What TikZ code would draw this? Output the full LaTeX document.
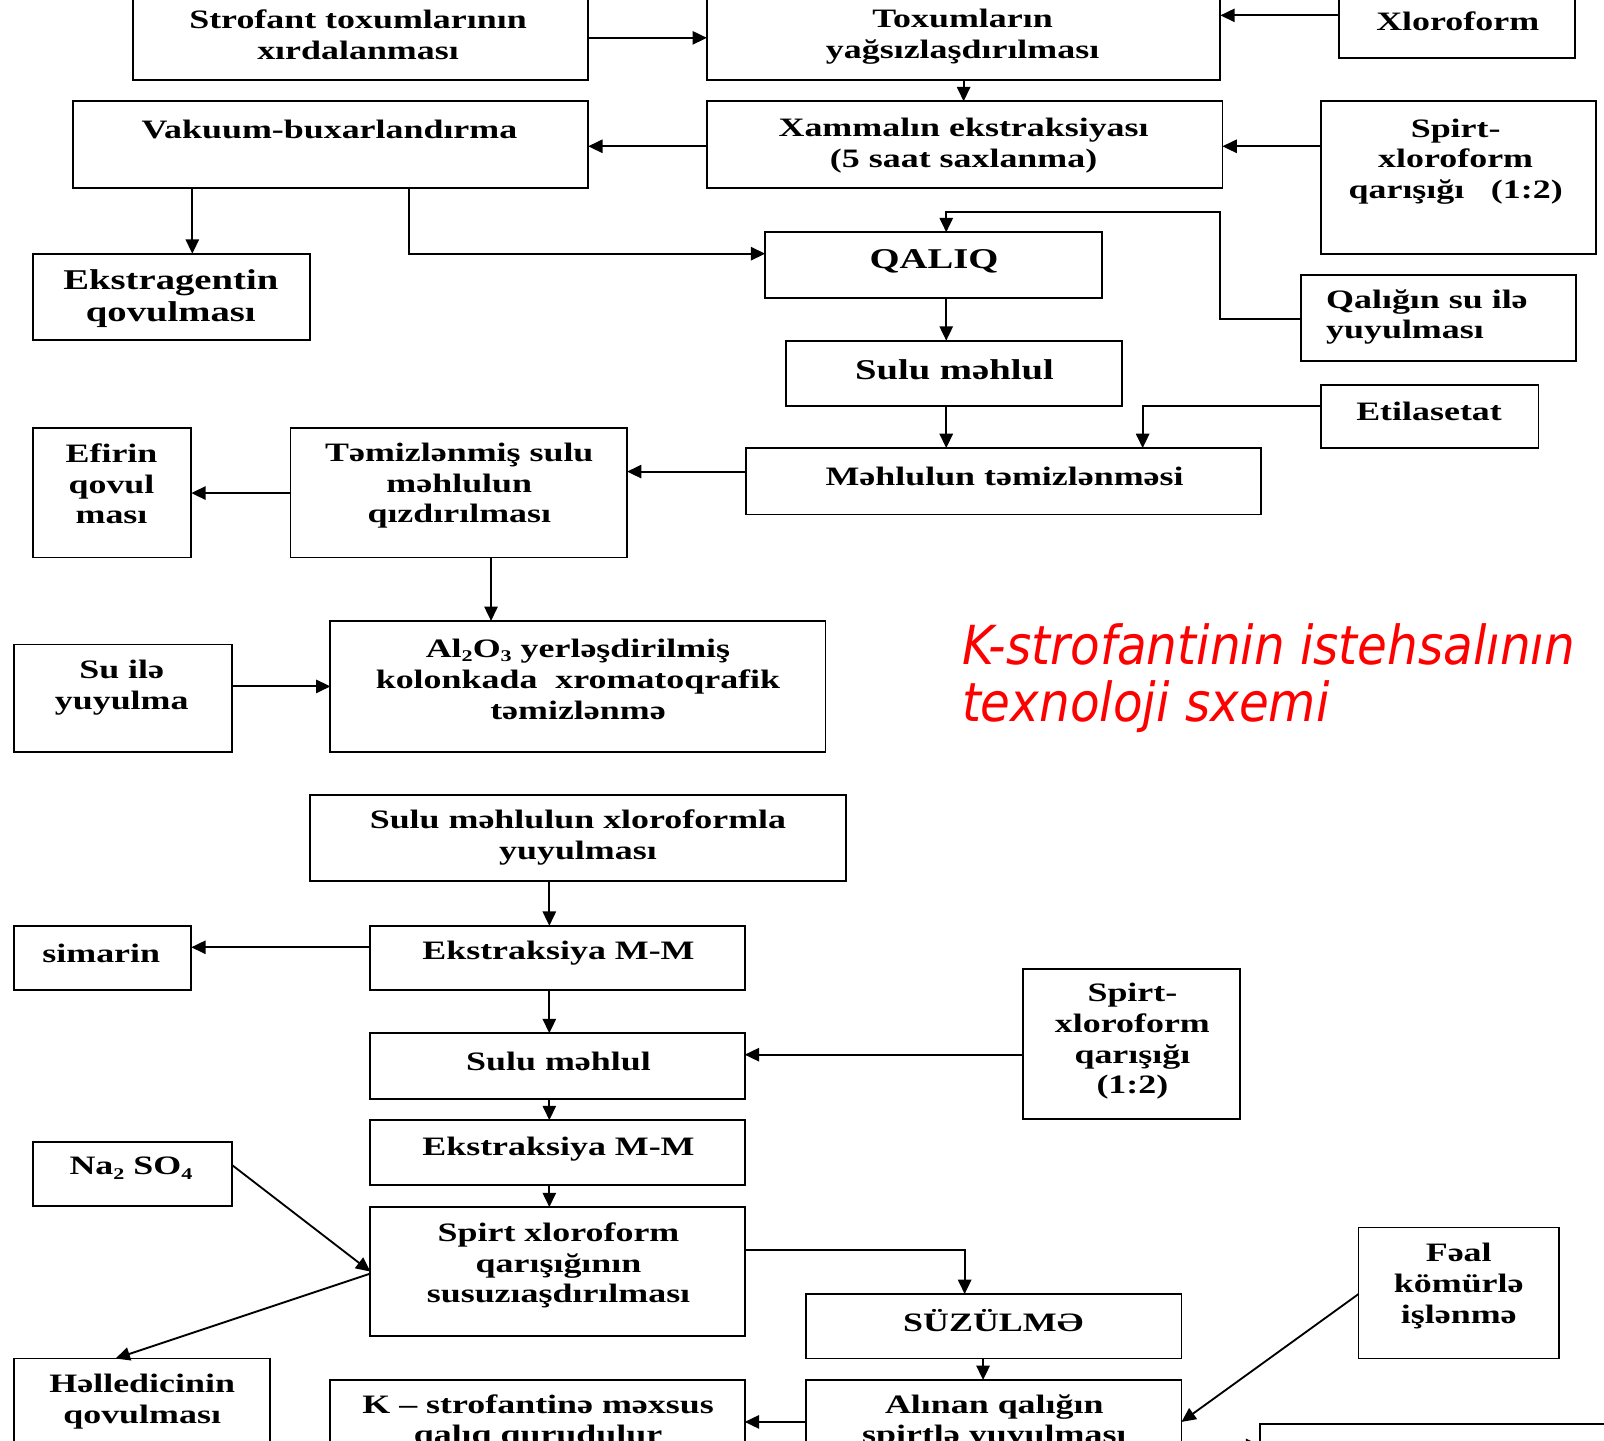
\documentclass[tikz,border=0pt]{standalone}
\usepackage{fontspec}
\usetikzlibrary{arrows.meta}
\newfontfamily\bxfont{Liberation Serif}[FakeStretch=1.35]
\newfontfamily\ttlfont{DejaVu Sans}[FakeStretch=0.9]
\newcommand\sbs[1]{\raisebox{-0.35ex}{\fontsize{8}{8}\selectfont #1}}
\newcommand\bx[5]{\node[bxs, minimum width={(#4-#2)*0.5pt}, minimum height={(#5-#3)*0.5pt}] (#1) at ({(#2+#4)/2},{(#3+#5)/2}) {};}
\tikzset{
  bxs/.style={draw, line width=0.9pt, rectangle, inner sep=0pt, outer sep=0pt},
  tx/.style={font=\bxfont\bfseries\fontsize{13}{15}\selectfont, align=center, inner sep=0pt},
  txb/.style={font=\bxfont\bfseries\fontsize{14}{16}\selectfont, align=center, inner sep=0pt},
  arr/.style={draw, line width=0.9pt, -{Triangle[length=7pt,width=6.5pt]}},
  ttl/.style={text=red, font=\ttlfont\itshape\fontsize{26.3}{27.5}\selectfont, anchor=base west, inner sep=0pt}
}
\begin{document}
\begin{tikzpicture}[x=0.5pt,y=-0.5pt]
\clip (0,0) rectangle (1568,1408);
\fill[white] (0,0) rectangle (1568,1408);
% boxes
\bx{strof}{130}{-10}{575}{78}
\bx{tox}{691}{-10}{1193}{78}
\bx{xlo}{1309}{-10}{1540}{57}
\bx{vak}{71}{99}{575}{184}
\bx{xam}{691}{99}{1195}{184}
\bx{spirt1}{1291}{99}{1560}{248}
\bx{ekstrag}{32}{248}{303}{332}
\bx{qaliq}{748}{227}{1077}{291}
\bx{qsu}{1272}{269}{1541}{353}
\bx{sulu1}{768}{333}{1097}{397}
\bx{etil}{1291}{376}{1504}{438}
\bx{mehtem}{729}{438}{1233}{503}
\bx{temiz}{284}{418}{613}{545}
\bx{efir}{32}{418}{187}{545}
\bx{al}{323}{607}{807}{735}
\bx{suile}{14}{630}{227}{735}
\bx{sxy}{303}{777}{827}{861}
\bx{ek1}{362}{905}{728}{968}
\bx{sim}{14}{905}{187}{968}
\bx{sulu2}{362}{1010}{728}{1074}
\bx{spirt2}{1000}{947}{1212}{1094}
\bx{ek2}{362}{1095}{728}{1158}
\bx{na}{32}{1116}{227}{1179}
\bx{sus}{362}{1180}{728}{1306}
\bx{hell}{14}{1328}{264}{1440}
\bx{suz}{788}{1265}{1155}{1328}
\bx{alin}{788}{1349}{1155}{1440}
\bx{feal}{1328}{1200}{1524}{1328}
\bx{kstr}{323}{1349}{728}{1440}
\bx{br}{1232}{1392}{1600}{1440}
% texts
\node[tx] (t1) at (350,34) {Strofant toxumlarının\\xırdalanması};
\node[tx] (t2) at (941,36) {Toxumların\\yağsızlaşdırılması};
\node[tx] (t3) at (1425,21) {Xloroform};
\node[tx] (t4) at (322,127) {Vakuum-buxarlandırma};
\node[tx] (t5) at (942,142) {Xammalın ekstraksiyası\\(5 saat saxlanma)};
\node[tx] (t6) at (1423,158) {Spirt-\\xloroform\\qarışığı\quad(1:2)};
\node[txb] (t7) at (167,292) {Ekstragentin\\qovulması};
\node[txb] (t8) at (913,255) {QALIQ};
\node[tx, anchor=west, align=left] (t9) at (1296,310) {Qalığın su ilə\\yuyulması};
\node[txb] (t10) at (933,361) {Sulu məhlul};
\node[tx] (t11) at (1397,402) {Etilasetat};
\node[tx] (t12) at (982,466) {Məhlulun təmizlənməsi};
\node[tx] (t13) at (449,475) {Təmizlənmiş sulu\\məhlulun\\qızdırılması};
\node[tx] (t14) at (109,473) {Efirin\\qovul\\ması};
\node[tx] (t15) at (565,664) {Al\sbs{2}O\sbs{3} yerləşdirilmiş\\kolonkada\ \ xromatoqrafik\\təmizlənmə};
\node[tx] (t16) at (119,672) {Su ilə\\yuyulma};
\node[tx] (t17) at (565,819) {Sulu məhlulun xloroformla\\yuyulması};
\node[tx] (t18) at (546,932) {Ekstraksiya M-M};
\node[tx] (t19) at (99,932) {simarin};
\node[tx] (t20) at (546,1038) {Sulu məhlul};
\node[tx] (t21) at (1107,1018) {Spirt-\\xloroform\\qarışığı\\(1:2)};
\node[tx] (t22) at (546,1123) {Ekstraksiya M-M};
\node[tx] (t23) at (128,1142) {Na\sbs{2} SO\sbs{4}};
\node[tx] (t24) at (546,1237) {Spirt xloroform\\qarışığının\\susuzıaşdırılması};
\node[tx] (t25) at (139,1370) {Həlledicinin\\qovulması};
\node[tx] (t26) at (971,1291) {SÜZÜLMƏ};
\node[tx] (t27) at (972,1390) {Alınan qalığın\\spirtlə yuyulması};
\node[tx] (t28) at (1426,1257) {Fəal\\kömürlə\\işlənmə};
\node[tx] (t29) at (526,1390) {K – strofantinə məxsus\\qalıq qurudulur};
\node[ttl] (ti1) at (940,650) {K-strofantinin istehsalının};
\node[ttl] (ti2) at (940,705) {texnoloji sxemi};
% connectors
\draw[arr] (strof.east |- 0,37) -- (tox.west |- 0,37);
\draw[arr] (xlo.west |- 0,15) -- (tox.east |- 0,15);
\draw[arr] (tox.south -| 942,0) -- (xam.north -| 942,0);
\draw[arr] (xam.west |- 0,143) -- (vak.east |- 0,143);
\draw[arr] (spirt1.west |- 0,143) -- (xam.east |- 0,143);
\draw[arr] (vak.south -| 188,0) -- (ekstrag.north -| 188,0);
\draw[arr] (vak.south -| 400,0) |- (qaliq.west |- 0,248);
\draw[arr] (qsu.west |- 0,312) -- (1193,312) -- (1193,207) -- (925,207) -- (qaliq.north -| 925,0);
\draw[arr] (qaliq.south -| 925,0) -- (sulu1.north -| 925,0);
\draw[arr] (sulu1.south -| 925,0) -- (mehtem.north -| 925,0);
\draw[arr] (etil.west |- 0,397) -| (mehtem.north -| 1117,0);
\draw[arr] (mehtem.west |- 0,461) -- (temiz.east |- 0,461);
\draw[arr] (temiz.west |- 0,482) -- (efir.east |- 0,482);
\draw[arr] (temiz.south -| 480,0) -- (al.north -| 480,0);
\draw[arr] (suile.east |- 0,671) -- (al.west |- 0,671);
\draw[arr] (sxy.south -| 537,0) -- (ek1.north -| 537,0);
\draw[arr] (ek1.west |- 0,926) -- (sim.east |- 0,926);
\draw[arr] (ek1.south -| 537,0) -- (sulu2.north -| 537,0);
\draw[arr] (spirt2.west |- 0,1031) -- (sulu2.east |- 0,1031);
\draw[arr] (sulu2.south -| 537,0) -- (ek2.north -| 537,0);
\draw[arr] (ek2.south -| 537,0) -- (sus.north -| 537,0);
\draw[arr] (na.east |- 0,1139) -- (sus.west |- 0,1243);
\draw[arr] (sus.west |- 0,1245) -- (hell.north -| 113,0);
\draw[arr] (sus.east |- 0,1222) -| (suz.north -| 943,0);
\draw[arr] (suz.south -| 961,0) -- (alin.north -| 961,0);
\draw[arr] (feal.west |- 0,1265) -- (alin.east |- 0,1390);
\draw[arr] (alin.west |- 0,1390) -- (kstr.east |- 0,1390);
\draw[arr] (alin.east |- 0,1413) -- (br.west |- 0,1413);
\end{tikzpicture}
\end{document}
